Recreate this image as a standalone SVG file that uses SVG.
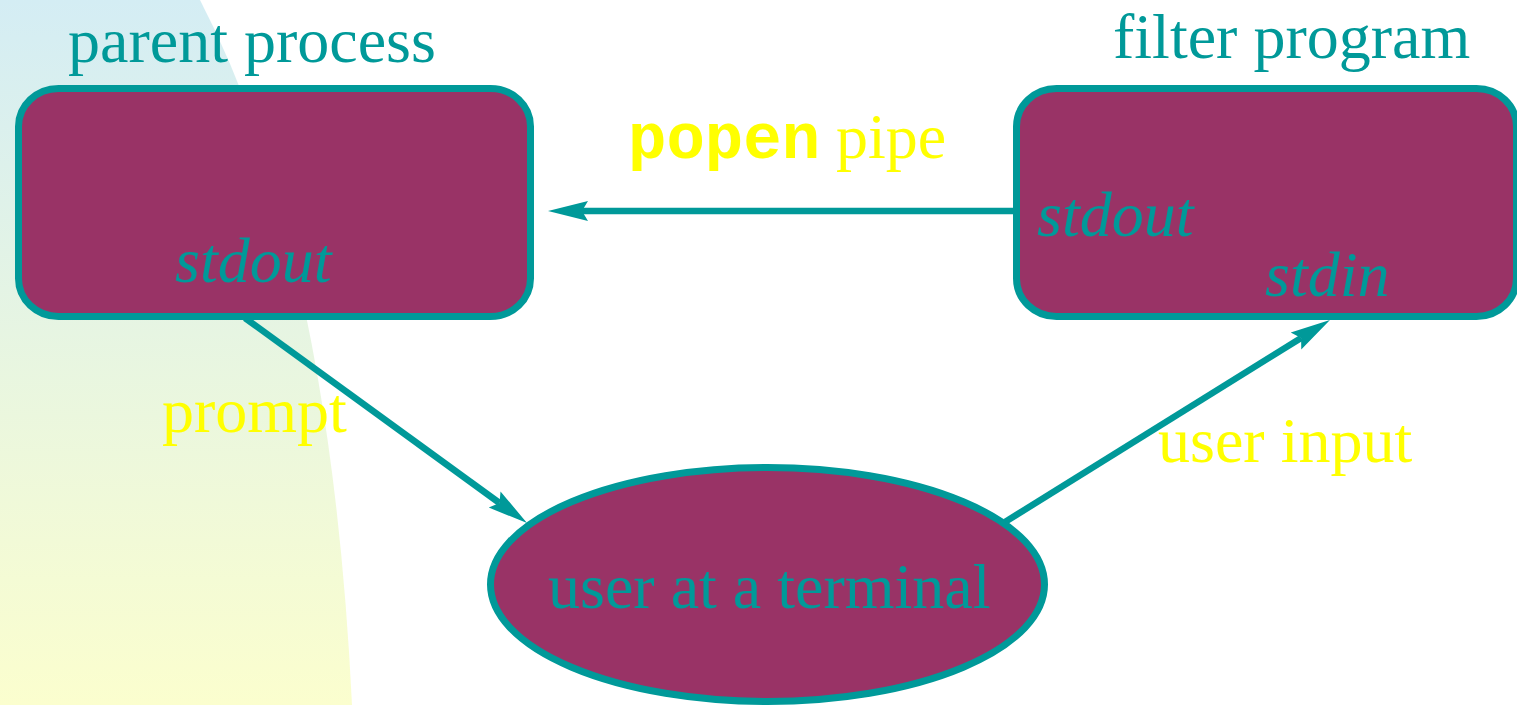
<svg xmlns="http://www.w3.org/2000/svg" width="1517" height="705" viewBox="0 0 1517 705">
  <style>
    .node { fill: #993366; stroke: #009999; stroke-width: 7; }
    .title { fill: #009999; font-family: "Liberation Serif", "Times New Roman", serif; font-size: 64px; }
    .port { fill: #009999; font-family: "Liberation Serif", "Times New Roman", serif; font-size: 64px; font-style: italic; }
    .label { fill: #ffff00; font-family: "Liberation Serif", "Times New Roman", serif; font-size: 64px; }
    .code { font-family: "Liberation Mono", "Courier New", monospace; font-weight: bold; }
    .link { fill: none; stroke: #009999; stroke-width: 6.5; marker-end: url(#head); }
  </style>
  <defs>
    <linearGradient id="wash" x1="0" y1="0" x2="0" y2="1">
      <stop offset="0" stop-color="#d4edf4"/>
      <stop offset="1" stop-color="#fbfece"/>
    </linearGradient>
    <marker id="head" markerUnits="userSpaceOnUse" markerWidth="42" markerHeight="24" viewBox="0 -12 42 24" refX="6" refY="0" orient="auto">
      <path d="M0,-10 L40,0 L0,10 L6,0 Z" fill="#009999"/>
    </marker>
  </defs>

  <!-- background wash -->
  <path d="M0,0 L200,0 Q330,250 352,705 L0,705 Z" fill="url(#wash)"/>

  <g id="parent-process">
    <rect class="node" x="18.5" y="88.5" width="512" height="228" rx="40" ry="38"/>
    <text class="title" x="68" y="62">parent process</text>
    <text class="port" x="175" y="282">stdout</text>
  </g>

  <g id="filter-program">
    <rect class="node" x="1016.5" y="88.5" width="500" height="228" rx="40" ry="38"/>
    <text class="title" x="1113" y="58">filter program</text>
    <text class="port" x="1037" y="236">stdout</text>
    <text class="port" x="1265" y="296">stdin</text>
  </g>

  <g id="user-terminal">
    <ellipse class="node" cx="767.5" cy="584.5" rx="277" ry="117" stroke-width="6"/>
    <text class="title" x="548" y="608">user at a terminal</text>
  </g>

  <g id="connectors">
    <path class="link" d="M1013,211 L582,211"/>
    <path class="link" d="M245,318 L499.5,503"/>
    <path class="link" d="M1005,522 L1301.1,337.9"/>
    <text class="label" x="628" y="158"><tspan class="code">popen</tspan> pipe</text>
    <text class="label" x="162" y="432">prompt</text>
    <text class="label" x="1158" y="462">user input</text>
  </g>
</svg>
